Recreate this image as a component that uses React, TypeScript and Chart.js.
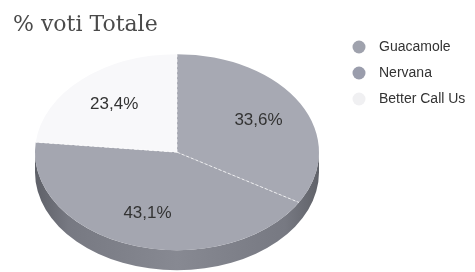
import React, { useEffect, useRef } from "react";
import { Chart, registerables } from "chart.js";

Chart.register(...registerables);

const TITLE = "% voti Totale";
const categories = ["Guacamole", "Nervana", "Better Call Us"];
const shares = [33.6, 43.1, 23.4];
const sliceColors = ["#a7a9b3", "#a4a6b0", "#f8f8fa"];
const legendColors = ["#9fa2ad", "#9a9dac", "#f0f0f2"];

const TILT = 0.69;
const DEPTH = 20;
const LABEL_FRACTION = 0.66;

const pie3d = {
  id: "pie3d",
  beforeDatasetsDraw(chart: any) {
    const meta = chart.getDatasetMeta(0);
    const first = meta.data[0];
    if (!first) return;
    const cx = first.x;
    const cy = first.y;
    const r = first.outerRadius;
    const ry = r * TILT;
    const ctx = chart.ctx;
    ctx.save();
    const g = ctx.createLinearGradient(cx - r, 0, cx + r, 0);
    g.addColorStop(0, "#5e6068");
    g.addColorStop(0.12, "#777982");
    g.addColorStop(0.5, "#878992");
    g.addColorStop(0.88, "#777982");
    g.addColorStop(1, "#606269");
    ctx.fillStyle = g;
    ctx.beginPath();
    ctx.ellipse(cx, cy, r, ry, 0, 0, Math.PI, false);
    ctx.ellipse(cx, cy + DEPTH, r, ry, 0, Math.PI, 0, true);
    ctx.closePath();
    ctx.fill();
    ctx.restore();
    ctx.save();
    ctx.translate(cx, cy);
    ctx.scale(1, TILT);
    ctx.translate(-cx, -cy);
  },
  afterDatasetsDraw(chart: any) {
    const ctx = chart.ctx;
    ctx.restore();
    const meta = chart.getDatasetMeta(0);
    const values = chart.data.datasets[0].data as number[];
    // separators
    ctx.save();
    ctx.strokeStyle = "rgba(255,255,255,0.75)";
    ctx.lineWidth = 1;
    ctx.setLineDash([3, 2]);
    meta.data.forEach((arc: any) => {
      const a = arc.startAngle;
      ctx.beginPath();
      ctx.moveTo(arc.x, arc.y);
      ctx.lineTo(arc.x + Math.cos(a) * arc.outerRadius, arc.y + Math.sin(a) * arc.outerRadius * TILT);
      ctx.stroke();
    });
    ctx.restore();
    // labels
    ctx.save();
    ctx.font = "17px 'Liberation Sans', Arial, sans-serif";
    ctx.fillStyle = "#333333";
    ctx.textAlign = "center";
    ctx.textBaseline = "middle";
    meta.data.forEach((arc: any, i: number) => {
      const mid = (arc.startAngle + arc.endAngle) / 2;
      const rr = arc.outerRadius * LABEL_FRACTION;
      const x = arc.x + Math.cos(mid) * rr;
      const y = arc.y + Math.sin(mid) * rr * TILT;
      ctx.fillText(values[i].toFixed(1).replace(".", ",") + "%", x, y);
    });
    ctx.restore();
  },
  afterDraw(chart: any) {
    const ctx = chart.ctx;
    const lx = 359;
    const ly = 47;
    const step = 26;
    ctx.save();
    ctx.font = "14px 'Liberation Sans', Arial, sans-serif";
    ctx.textBaseline = "middle";
    ctx.textAlign = "left";
    (chart.data.labels as string[]).forEach((label, i) => {
      const y = ly + i * step;
      ctx.beginPath();
      ctx.arc(lx, y, 6.5, 0, Math.PI * 2);
      ctx.fillStyle = legendColors[i];
      ctx.fill();
      ctx.fillStyle = "#333333";
      ctx.fillText(label, lx + 20, y);
    });
    ctx.restore();
  },
};

export default function App() {
  const ref = useRef<HTMLCanvasElement | null>(null);
  useEffect(() => {
    if (!ref.current) return;
    const chart = new Chart(ref.current, {
      type: "pie",
      data: {
        labels: categories,
        datasets: [
          {
            data: shares,
            backgroundColor: sliceColors,
            borderWidth: 0,
            clip: false as any,
          } as any,
        ],
      },
      options: {
        animation: false,
        responsive: true,
        maintainAspectRatio: false,
        events: [],
        radius: 142,
        layout: { padding: { left: 13, right: 134, top: 0, bottom: 8 } },
        plugins: {
          legend: { display: false },
          tooltip: { enabled: false },
          title: {
            display: true,
            text: TITLE,
            align: "start",
            color: "#4a4a4a",
            font: { family: "'DejaVu Serif', Georgia, serif", size: 22, weight: "normal" },
            padding: { top: 12, bottom: 2 },
          },
        },
      } as any,
      plugins: [pie3d],
    });
    return () => chart.destroy();
  }, []);
  return (
    <div style={{ position: "absolute", left: 0, top: 0, width: 475, height: 272 }}>
      <canvas ref={ref} />
    </div>
  );
}
